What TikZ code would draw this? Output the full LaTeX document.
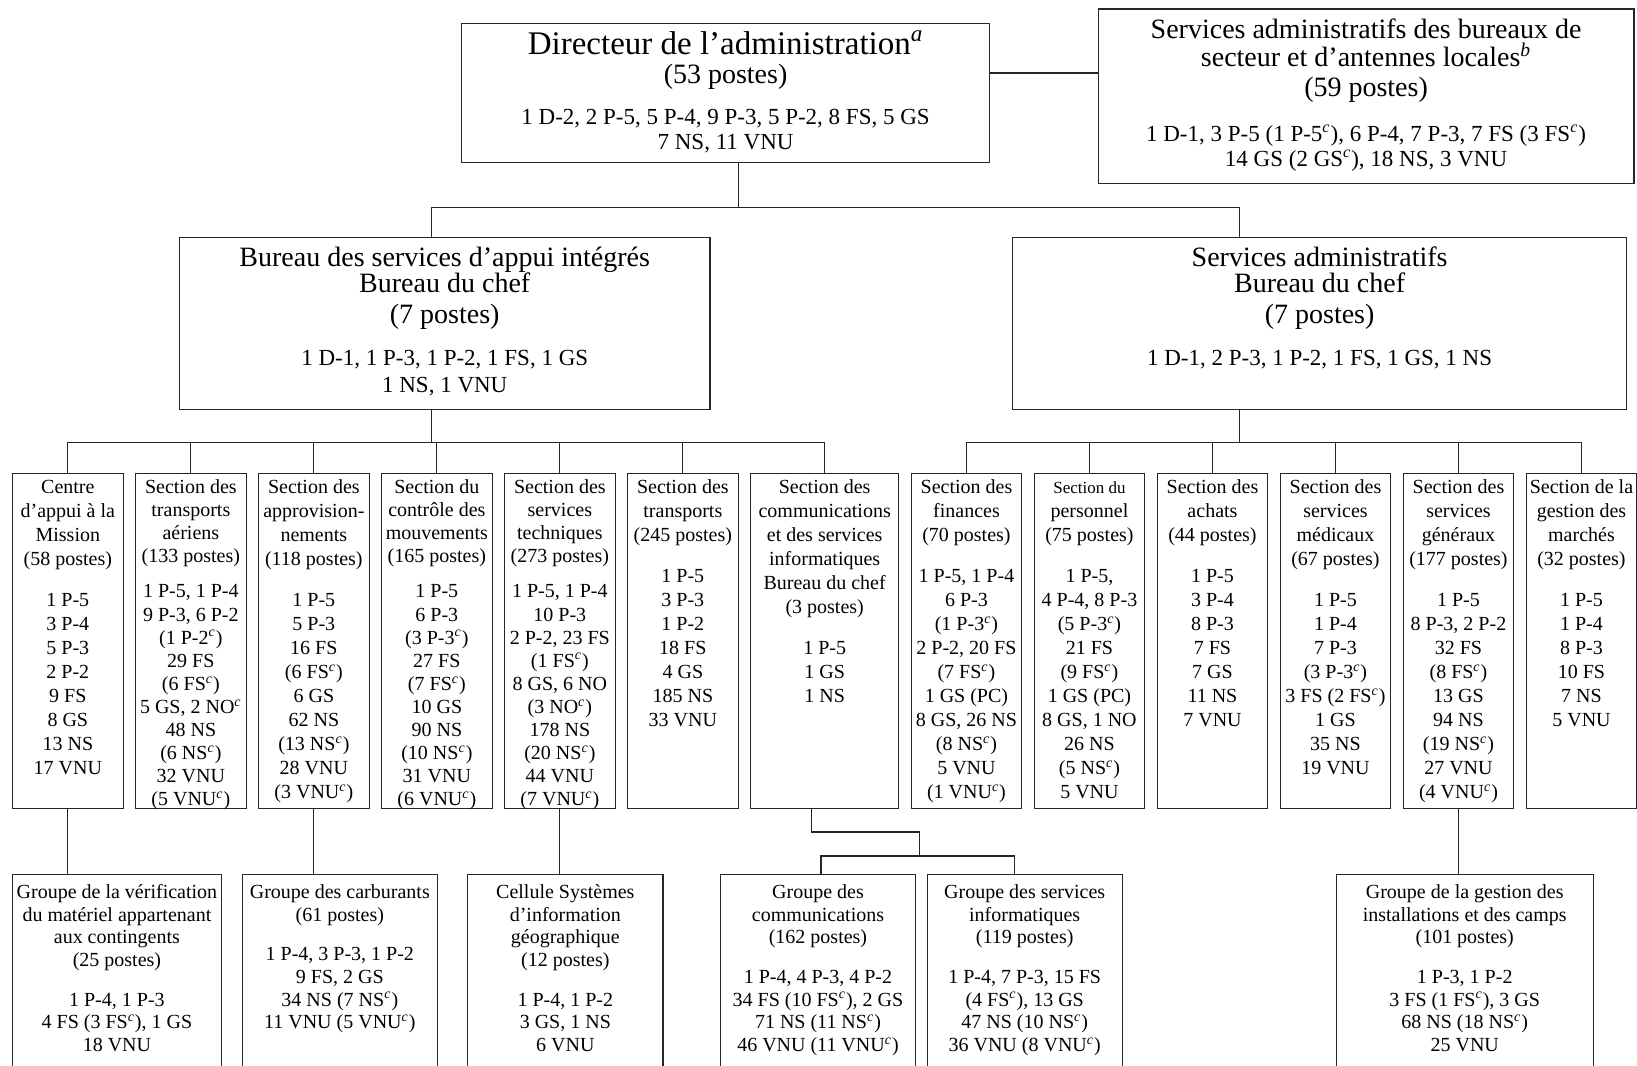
\documentclass[tikz,border=0pt]{standalone}
\usepackage{fontspec}
\setmainfont{Liberation Serif}
\usetikzlibrary{positioning}
\lineskiplimit=-100pt
\newcommand\fnc{\textsuperscript{\textit{c}}}
\newcommand\dirfont{\fontsize{16.5}{13}\selectfont}
\newcommand\headfont{\fontsize{14}{13}\selectfont}
\newcommand\bodyfont{\fontsize{11.5}{13}\selectfont}
\newcommand\secfont{\fontsize{10}{12}\selectfont}
\newcommand\tightfont{\fontsize{10}{11.55}\selectfont}
\newcommand\grpfont{\fontsize{10}{11.33}\selectfont}
\tikzset{
  box/.style={draw=black!85, line width=0.6pt, anchor=north, align=center, inner xsep=1pt, inner ysep=1pt,
    execute at begin node={\spaceskip=0pt\xspaceskip=0pt\leftskip=0pt plus 1fil\rightskip=0pt plus 1fil\parfillskip=0pt}},
  head/.style={box, font=\headfont},
  sect/.style={box, font=\secfont, text width=53.3pt, text height=9pt, text depth=156.6pt},
  tightsect/.style={sect, font=\tightfont},
  widesect/.style={sect, text width=72.1pt},
  grp/.style={box, font=\grpfont, text width=95.6pt, text height=11pt, text depth=100pt},
  wire/.style={draw=black!85, line width=0.6pt}
}

\begin{document}
\begin{tikzpicture}[x=0.522pt, y=-0.522pt]
  \useasboundingbox (0,0) rectangle (1568,1021);
  \clip (0,0) rectangle (1568,1021);

  % direction
  \node[head, text width=262.1pt, text height=14.3pt, text depth=53.1pt] (dir) at (695,22)
    {{\dirfont Directeur de l’administration\textsuperscript{\textit{a}}}\\[1.7pt]
     (53 postes)\\[7.5pt]
     {\bodyfont 1 D-2, 2 P-5, 5 P-4, 9 P-3, 5 P-2, 8 FS, 5 GS}\\[-0.5pt]
     {\bodyfont 7 NS, 11 VNU}};
  \node[head, text width=265.8pt, text height=13.8pt, text depth=71.4pt] (sabs) at (1308.5,8)
    {Services administratifs des bureaux de\\[1.2pt]
     secteur et d’antennes locales\textsuperscript{\textit{b}}\\[1.6pt]
     (59 postes)\\[9.6pt]
     {\bodyfont 1 D-1, 3 P-5 (1 P-5\fnc), 6 P-4, 7 P-3, 7 FS (3 FS\fnc)}\\[-0.4pt]
     {\bodyfont 14 GS (2 GS\fnc), 18 NS, 3 VNU}};

  % bureaux du chef
  \node[head, text width=263.2pt, text height=13.3pt, text depth=70.8pt] (bsai) at (426,227)
    {Bureau des services d’appui intégrés\\[0.1pt]
     Bureau du chef\\[2.6pt]
     (7 postes)\\[8pt]
     {\bodyfont 1 D-1, 1 P-3, 1 P-2, 1 FS, 1 GS}\\[0.6pt]
     {\bodyfont 1 NS, 1 VNU}};
  \node[head, text width=304.9pt, text height=13.3pt, text depth=70.8pt] (sadm) at (1264,227)
    {Services administratifs\\[0.1pt]
     Bureau du chef\\[2.6pt]
     (7 postes)\\[8pt]
     {\bodyfont 1 D-1, 2 P-3, 1 P-2, 1 FS, 1 GS, 1 NS}};

  % sections
  \node[sect] (cam) at (65,453)
    {Centre\\d’appui à la\\Mission\\(58 postes)\\[8.4pt]
     1 P-5\\3 P-4\\5 P-3\\2 P-2\\9 FS\\8 GS\\13 NS\\17 VNU};
  \node[tightsect, right=5.6pt of cam] (sta)
    {Section des\\transports\\aériens\\(133 postes)\\[6pt]
     1 P-5, 1 P-4\\9 P-3, 6 P-2\\(1 P-2\fnc)\\29 FS\\(6 FS\fnc)\\5 GS, 2 NO\fnc\\48 NS\\(6 NS\fnc)\\32 VNU\\(5 VNU\fnc)};
  \node[sect, right=5.6pt of sta] (sap)
    {Section des\\approvision-\\nements\\(118 postes)\\[8.4pt]
     1 P-5\\5 P-3\\16 FS\\(6 FS\fnc)\\6 GS\\62 NS\\(13 NS\fnc)\\28 VNU\\(3 VNU\fnc)};
  \node[tightsect, right=5.6pt of sap] (scm)
    {Section du\\contrôle des\\mouvements\\(165 postes)\\[6pt]
     1 P-5\\6 P-3\\(3 P-3\fnc)\\27 FS\\(7 FS\fnc)\\10 GS\\90 NS\\(10 NS\fnc)\\31 VNU\\(6 VNU\fnc)};
  \node[tightsect, right=5.6pt of scm] (sst)
    {Section des\\services\\techniques\\(273 postes)\\[6pt]
     1 P-5, 1 P-4\\10 P-3\\2 P-2, 23 FS\\(1 FS\fnc)\\8 GS, 6 NO\\(3 NO\fnc)\\178 NS\\(20 NS\fnc)\\44 VNU\\(7 VNU\fnc)};
  \node[sect, right=5.6pt of sst] (str)
    {Section des\\transports\\(245 postes)\\[8.4pt]
     1 P-5\\3 P-3\\1 P-2\\18 FS\\4 GS\\185 NS\\33 VNU};
  \node[widesect, right=5.6pt of str] (comm)
    {Section des\\communications\\et des services\\informatiques\\Bureau du chef\\(3 postes)\\[8.4pt]
     1 P-5\\1 GS\\1 NS};
  \node[sect, right=5.6pt of comm] (sfi)
    {Section des\\finances\\(70 postes)\\[8.4pt]
     1 P-5, 1 P-4\\6 P-3\\(1 P-3\fnc)\\2 P-2, 20 FS\\(7 FS\fnc)\\1 GS (PC)\\8 GS, 26 NS\\(8 NS\fnc)\\5 VNU\\(1 VNU\fnc)};
  \node[sect, right=5.6pt of sfi] (spe)
    {{\fontsize{8.5}{12}\selectfont Section du}\\personnel\\(75 postes)\\[8.4pt]
     1 P-5,\\4 P-4, 8 P-3\\(5 P-3\fnc)\\21 FS\\(9 FS\fnc)\\1 GS (PC)\\8 GS, 1 NO\\26 NS\\(5 NS\fnc)\\5 VNU};
  \node[sect, right=5.6pt of spe] (sac)
    {Section des\\achats\\(44 postes)\\[8.4pt]
     1 P-5\\3 P-4\\8 P-3\\7 FS\\7 GS\\11 NS\\7 VNU};
  \node[sect, right=5.6pt of sac] (smd)
    {Section des\\services\\médicaux\\(67 postes)\\[8.4pt]
     1 P-5\\1 P-4\\7 P-3\\(3 P-3\fnc)\\3 FS (2 FS\fnc)\\1 GS\\35 NS\\19 VNU};
  \node[sect, right=5.6pt of smd] (sgx)
    {Section des\\services\\généraux\\(177 postes)\\[8.4pt]
     1 P-5\\8 P-3, 2 P-2\\32 FS\\(8 FS\fnc)\\13 GS\\94 NS\\(19 NS\fnc)\\27 VNU\\(4 VNU\fnc)};
  \node[sect, right=5.6pt of sgx] (smc)
    {Section de la\\gestion des\\marchés\\(32 postes)\\[8.4pt]
     1 P-5\\1 P-4\\8 P-3\\10 FS\\7 NS\\5 VNU};

  % groupes
  \node[grp, text width=104.4pt, inner xsep=0pt] (verif) at (112,837)
    {Groupe de la vérification\\du matériel appartenant\\aux contingents\\(25 postes)\\[8.5pt]
     1 P-4, 1 P-3\\4 FS (3 FS\fnc), 1 GS\\18 VNU};
  \node[grp] (carb) at (325.5,837)
    {Groupe des carburants\\(61 postes)\\[8.5pt]
     1 P-4, 3 P-3, 1 P-2\\9 FS, 2 GS\\34 NS (7 NS\fnc)\\11 VNU (5 VNU\fnc)};
  \node[grp] (cel) at (541.5,837)
    {Cellule Systèmes\\d’information\\géographique\\(12 postes)\\[8.5pt]
     1 P-4, 1 P-2\\3 GS, 1 NS\\6 VNU};
  \node[grp] (grpcom) at (783.5,837)
    {Groupe des\\communications\\(162 postes)\\[8.5pt]
     1 P-4, 4 P-3, 4 P-2\\34 FS (10 FS\fnc), 2 GS\\71 NS (11 NS\fnc)\\46 VNU (11 VNU\fnc)};
  \node[grp] (grpinf) at (981.5,837)
    {Groupe des services\\informatiques\\(119 postes)\\[8.5pt]
     1 P-4, 7 P-3, 15 FS\\(4 FS\fnc), 13 GS\\47 NS (10 NS\fnc)\\36 VNU (8 VNU\fnc)};
  \node[grp, text width=126.4pt] (gic) at (1403,837)
    {Groupe de la gestion des\\installations et des camps\\(101 postes)\\[8.5pt]
     1 P-3, 1 P-2\\3 FS (1 FS\fnc), 3 GS\\68 NS (18 NS\fnc)\\25 VNU};

  % liaisons
  \coordinate (tie) at (1000,70);
  \coordinate (hub) at (707,199);
  \coordinate (legL) at (413,199);
  \coordinate (legR) at (1187,199);
  \coordinate (busL) at (413,424);
  \coordinate (busR) at (1187,424);
  \coordinate (knee) at (881,797);
  \coordinate (fork) at (881,820);

  \draw[wire] (dir.east |- tie) -- (sabs.west |- tie);
  \draw[wire] (dir.south -| hub) -- (hub);
  \draw[wire] (legL |- bsai.north) -- (legL) -- (legR) -- (legR |- sadm.north);
  \draw[wire] (bsai.south -| busL) -- (busL);
  \draw[wire] (sadm.south -| busR) -- (busR);
  \draw[wire] (cam.north) -- (cam.north |- busL) -- (comm.north |- busL) -- (comm.north);
  \foreach \s in {sta,sap,scm,sst,str}
    \draw[wire] (\s.north) -- (\s.north |- busL);
  \draw[wire] (sfi.north) -- (sfi.north |- busR) -- (smc.north |- busR) -- (smc.north);
  \foreach \s in {spe,sac,smd,sgx}
    \draw[wire] (\s.north) -- (\s.north |- busR);

  \draw[wire] (cam.south) -- (cam.south |- verif.north);
  \draw[wire] (sap.south) -- (sap.south |- carb.north);
  \draw[wire] (sst.south) -- (sst.south |- cel.north);
  \draw[wire] (sgx.south) -- (sgx.south |- gic.north);
  \draw[wire] ([xshift=-6.5pt]comm.south) |- (knee) -- (fork);
  \draw[wire] ([xshift=1.5pt]grpcom.north) |- (fork) -| ([xshift=-5pt]grpinf.north);
\end{tikzpicture}
\end{document}
